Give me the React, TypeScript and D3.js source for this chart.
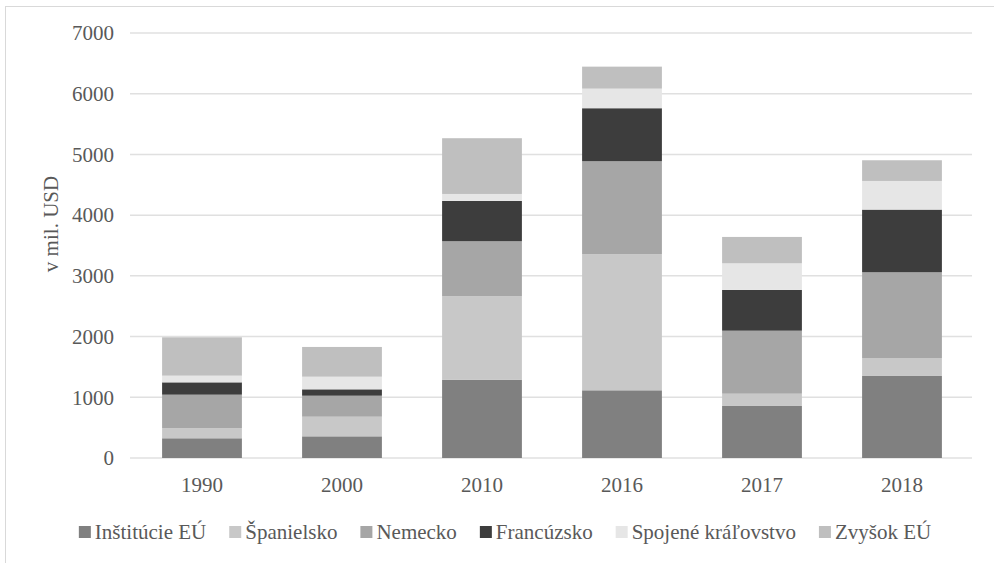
import React, { useMemo } from 'react';
import * as d3 from 'd3';

// roky na osi x
const years = ['1990', '2000', '2010', '2016', '2017', '2018'];

// series (v mil. USD), odčítané z grafu
const institucieEU = [325, 357, 1290, 1115, 857, 1351];
const spanielsko = [165, 323, 1374, 2241, 202, 296];
const nemecko = [553, 346, 906, 1532, 1038, 1412];
const francuzsko = [203, 105, 664, 873, 671, 1032];
const spojeneKralovstvo = [110, 208, 115, 323, 439, 472];
const zvysokEU = [632, 490, 918, 362, 434, 341];

const seriesNames = ['Inštitúcie EÚ', 'Španielsko', 'Nemecko', 'Francúzsko', 'Spojené kráľovstvo', 'Zvyšok EÚ'];
const seriesColors = ['#808080', '#c8c8c8', '#a6a6a6', '#3d3d3d', '#e6e6e6', '#bfbfbf'];
const yTicks = [0, 1000, 2000, 3000, 4000, 5000, 6000, 7000];

const W = 994;
const H = 563;
const FONT = "'Liberation Serif'";
const FS = 21;
const TXT = '#595959';

const measure = (s: string) => {
  const ctx = document.createElement('canvas').getContext('2d')!;
  ctx.font = `${FS}px 'Liberation Serif'`;
  return ctx.measureText(s).width;
};

const App = () => {
  const allSeries = [institucieEU, spanielsko, nemecko, francuzsko, spojeneKralovstvo, zvysokEU];
  const rows = years.map((year, i) => {
    const row: any = { year };
    seriesNames.forEach((name, s) => (row[name] = allSeries[s][i]));
    return row;
  });
  const stacked = d3.stack().keys(seriesNames)(rows);

  const x = d3.scaleBand().domain(years).range([132, 972]).paddingInner(0.43).paddingOuter(0.215);
  const y = d3.scaleLinear().domain([0, 7000]).range([458, 33]);

  // legenda - pozície podľa šírky textu
  const legendPos = useMemo(() => {
    const widths = seriesNames.map(measure);
    const gap = 23;
    const total = widths.reduce((a, w) => a + 16 + w, 0) + gap * (widths.length - 1);
    let cx = 505 - total / 2;
    return widths.map((w) => {
      const p = cx;
      cx += 16 + w + gap;
      return p;
    });
  }, []);

  const textStyle = { fontFamily: FONT };

  return (
    <svg width={W} height={H} style={{ position: 'absolute', left: 0, top: 0, background: '#fff' }}>
      <rect x={5.5} y={6.5} width={1000} height={600} fill="none" stroke="#d9d9d9" />

      {yTicks.map((t) => (
        <line key={t} x1={130} x2={972} y1={y(t)} y2={y(t)} stroke="#e0e0e0" strokeWidth={1.5} />
      ))}
      {yTicks.map((t) => (
        <text key={t} x={114} y={y(t)} dy="0.35em" textAnchor="end" fontSize={FS} fill={TXT} style={textStyle}>
          {t}
        </text>
      ))}
      <text transform="translate(58,224) rotate(-90)" textAnchor="middle" fontSize={FS} fill={TXT} style={textStyle}>
        v mil. USD
      </text>

      {stacked.map((layer, i) => (
        <g key={layer.key} fill={seriesColors[i]}>
          {layer.map((d: any) => (
            <rect
              key={d.data.year}
              x={x(d.data.year)}
              y={y(d[1])}
              width={x.bandwidth()}
              height={y(d[0]) - y(d[1])}
            />
          ))}
        </g>
      ))}

      {years.map((yr) => (
        <text key={yr} x={x(yr)! + x.bandwidth() / 2} y={492} textAnchor="middle" fontSize={FS} fill={TXT} style={textStyle}>
          {yr}
        </text>
      ))}

      {seriesNames.map((name, i) => (
        <g key={name} transform={`translate(${legendPos[i]},539)`}>
          <rect y={-13} width={12} height={12} fill={seriesColors[i]} />
          <text x={16} fontSize={FS} fill={TXT} style={textStyle}>
            {name}
          </text>
        </g>
      ))}
    </svg>
  );
};

export default App;
